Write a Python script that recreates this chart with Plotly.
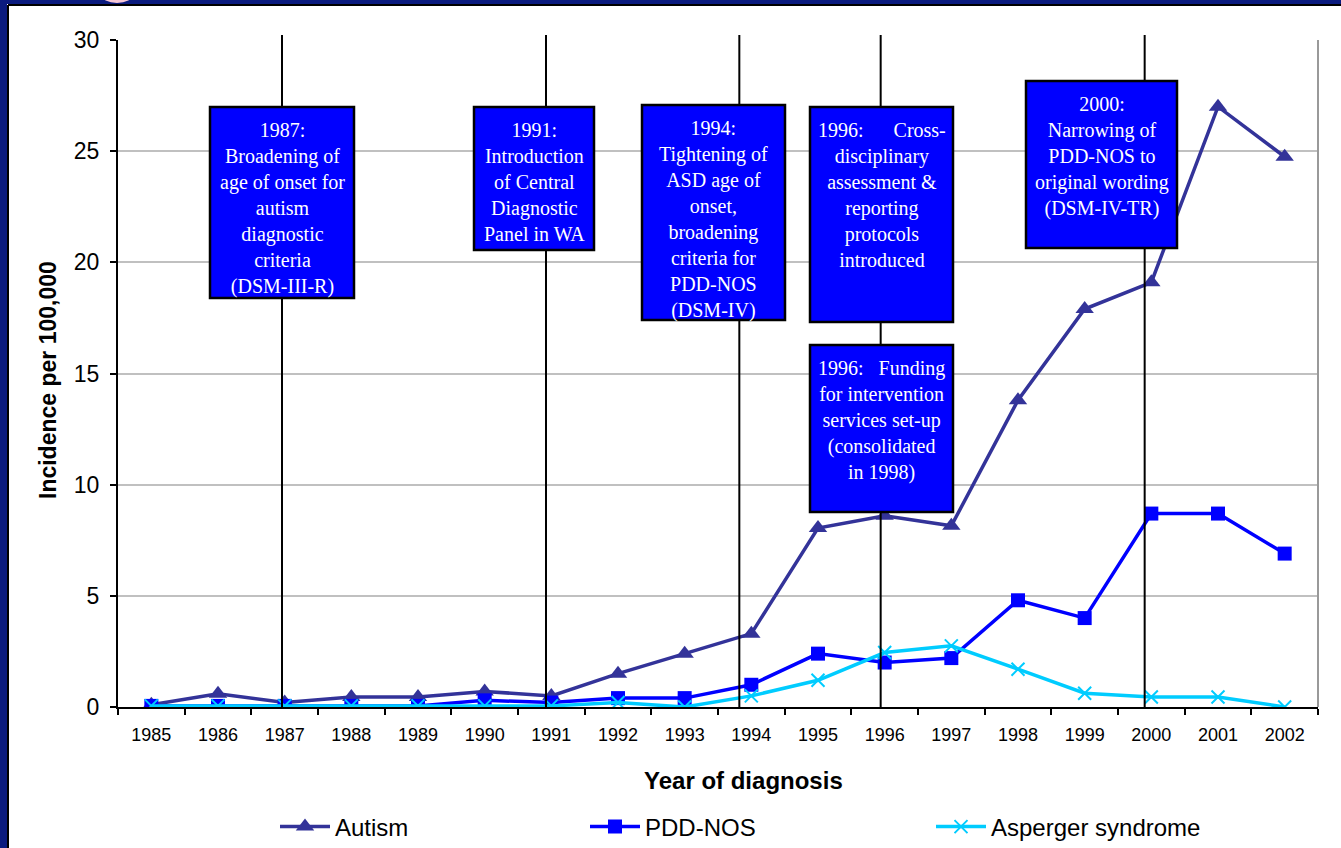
import plotly.graph_objects as go

years = [str(y) for y in range(1985, 2003)]
autism = [0.1, 0.6, 0.2, 0.45, 0.45, 0.7, 0.5, 1.5, 2.4, 3.3, 8.05, 8.6, 8.15, 13.8, 17.9, 19.1, 27.0, 24.75]
pdd_nos = [0.05, 0.05, 0.05, 0.05, 0.05, 0.3, 0.2, 0.4, 0.4, 1.0, 2.4, 2.0, 2.2, 4.8, 4.0, 8.7, 8.7, 6.9]
asperger = [0.05, 0.05, 0.05, 0.05, 0.05, 0.05, 0.05, 0.2, 0.0, 0.5, 1.2, 2.45, 2.75, 1.7, 0.62, 0.45, 0.45, 0.0]

event_years = ["1987", "1991", "1994", "1996", "2000"]
event_offsets = [-0.04, -0.08, -0.18, -0.06, -0.1]

box_texts = [
    "1987:<br>Broadening of<br>age of onset for<br>autism<br>diagnostic<br>criteria<br>(DSM-III-R)",
    "1991:<br>Introduction<br>of Central<br>Diagnostic<br>Panel in WA",
    "1994:<br>Tightening of<br>ASD age of<br>onset,<br>broadening<br>criteria for<br>PDD-NOS<br>(DSM-IV)",
    "1996:\u00a0\u00a0\u00a0\u00a0\u00a0 Cross-<br>disciplinary<br>assessment &amp;<br>reporting<br>protocols<br>introduced",
    "1996:\u00a0\u00a0 Funding<br>for intervention<br>services set-up<br>(consolidated<br>in 1998)",
    "2000:<br>Narrowing of<br>PDD-NOS to<br>original wording<br>(DSM-IV-TR)",
]
# box pixel geometry (left, top, right, bottom)
box_px = [(209, 106, 355, 299), (473, 106, 595, 251), (641, 104, 786, 321),
          (809, 106, 954, 323), (809, 344, 954, 513), (1025, 80, 1178, 249)]

W, H = 1341, 848
L, R, T, B = 118, 1318, 40, 707

def px_x(p):
    return (p - L) / (R - L)

def px_y(p):
    return (B - p) / (B - T)

fig = go.Figure()

fig.add_trace(go.Scatter(
    x=years, y=autism, name="Autism", mode="lines+markers",
    line=dict(color="#333399", width=3.5),
    marker=dict(symbol="triangle-up", size=16, color="#333399"),
    legend="legend"))
fig.add_trace(go.Scatter(
    x=years, y=pdd_nos, name="PDD-NOS", mode="lines+markers",
    line=dict(color="#0000FF", width=3.5),
    marker=dict(symbol="square", size=14, color="#0000FF"),
    legend="legend2"))
fig.add_trace(go.Scatter(
    x=years, y=asperger, name="Asperger syndrome", mode="lines+markers",
    line=dict(color="#00CCFF", width=3.5),
    marker=dict(symbol="x-thin", size=13, color="#00CCFF",
                line=dict(color="#00CCFF", width=2)),
    legend="legend3"))

shapes = []
# event lines
for ey, off in zip(event_years, event_offsets):
    xi = years.index(ey) + off
    shapes.append(dict(type="line", xref="x", yref="paper", x0=xi, x1=xi,
                       y0=0, y1=px_y(35), line=dict(color="black", width=2)))
# event boxes (drawn over the lines)
for (bl, bt, br, bb) in box_px:
    shapes.append(dict(type="rect", xref="paper", yref="paper",
                       x0=px_x(bl + 1), x1=px_x(br - 1), y0=px_y(bb - 1), y1=px_y(bt + 1),
                       fillcolor="#0000FF", line=dict(color="black", width=2.5)))
# right border of plot area
shapes.append(dict(type="line", xref="paper", yref="paper", x0=1.0, x1=1.0,
                   y0=0, y1=1, line=dict(color="#999999", width=2)))
# navy frame
navy = "#0B1B7F"
shapes.append(dict(type="rect", xref="paper", yref="paper", x0=px_x(-5), x1=px_x(7),
                   y0=px_y(860), y1=px_y(-5), fillcolor=navy, line=dict(width=0), layer="above"))
shapes.append(dict(type="rect", xref="paper", yref="paper", x0=px_x(-5), x1=px_x(1350),
                   y0=px_y(4), y1=px_y(-5), fillcolor=navy, line=dict(width=0), layer="above"))
shapes.append(dict(type="line", xref="paper", yref="paper", x0=px_x(8), x1=px_x(8),
                   y0=px_y(860), y1=px_y(5), line=dict(color="black", width=2)))
shapes.append(dict(type="line", xref="paper", yref="paper", x0=px_x(8), x1=px_x(1350),
                   y0=px_y(5), y1=px_y(5), line=dict(color="black", width=2)))
# small pink mark at top
shapes.append(dict(type="circle", xref="paper", yref="paper", x0=px_x(101), x1=px_x(133),
                   y0=px_y(3), y1=px_y(-14), fillcolor="#F6C6D6", line=dict(width=0)))

annotations = []
for txt, (bl, bt, br, bb) in zip(box_texts, box_px):
    annotations.append(dict(
        text=txt, xref="paper", yref="paper",
        x=px_x((bl + br) / 2), y=px_y(bt + 12), xanchor="center", yanchor="top",
        showarrow=False, align="center", borderpad=0,
        font=dict(family="Liberation Serif, Times New Roman, serif", size=20, color="white")))

annotations.append(dict(text="<b>Year of diagnosis</b>", xref="paper", yref="paper",
                        x=px_x(743), y=px_y(781), xanchor="center", yanchor="middle",
                        showarrow=False,
                        font=dict(family="Liberation Sans, Arial, sans-serif", size=24, color="black")))
annotations.append(dict(text="<b>Incidence per 100,000</b>", xref="paper", yref="paper",
                        x=px_x(48), y=px_y(380), xanchor="center", yanchor="middle",
                        textangle=-90, showarrow=False,
                        font=dict(family="Liberation Sans, Arial, sans-serif", size=23, color="black")))

leg_font = dict(family="Liberation Sans, Arial, sans-serif", size=24, color="black")
leg_common = dict(orientation="h", xanchor="left", yanchor="middle", y=px_y(827),
                  font=leg_font, bgcolor="rgba(0,0,0,0)", itemwidth=50)

fig.update_layout(
    width=W, height=H,
    margin=dict(l=L, r=W - R, t=T, b=H - B, autoexpand=False),
    paper_bgcolor="white", plot_bgcolor="white",
    font=dict(family="Liberation Sans, Arial, sans-serif", color="black"),
    showlegend=True,
    legend=dict(x=px_x(275), **leg_common),
    legend2=dict(x=px_x(585), **leg_common),
    legend3=dict(x=px_x(931), **leg_common),
    xaxis=dict(type="category", tickson="boundaries", ticks="outside", ticklen=6,
               tickcolor="black", tickwidth=2, showline=True, linecolor="black", linewidth=2,
               showgrid=False, tickfont=dict(size=18), range=[-0.5, 17.5],
               ticklabelstandoff=10, automargin=False),
    yaxis=dict(range=[0, 30], dtick=5, ticks="outside", ticklen=6, tickcolor="black",
               tickwidth=2, showline=True, linecolor="black", linewidth=2,
               showgrid=True, gridcolor="#C0C0C0", gridwidth=2, zeroline=False,
               tickfont=dict(size=23), ticklabelstandoff=6, automargin=False),
    shapes=shapes, annotations=annotations,
)

fig.write_html("out.html", config={"displayModeBar": False},
               post_script="document.body.style.margin='0';")
